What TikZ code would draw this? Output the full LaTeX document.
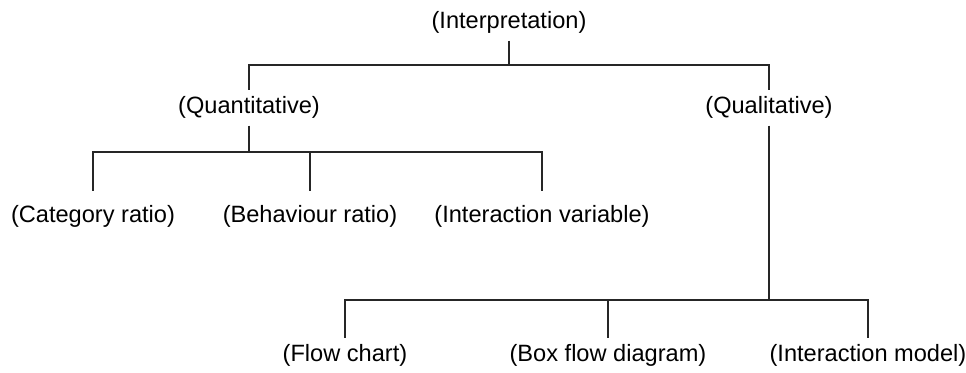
\documentclass[tikz,border=0pt]{standalone}
\usepackage{fontspec}
\setmainfont{Liberation Sans}
\begin{document}
\begin{tikzpicture}[x=0.5pt, y=-0.5pt,
    lbl/.style={font=\fontsize{11.8}{14}\selectfont, inner xsep=0pt, inner ysep=4pt,
                text height=0.73em, text depth=0.21em},
    tree/.style={line width=0.8pt, black!85}]
        % Frame of the picture (pixel grid of the reference)
        \useasboundingbox (0,0) rectangle (966,373);

        % Root
        \node[lbl] (interp) at (509, 23) {(Interpretation)};

        % Second level
        \node[lbl] (quant) at (249, 108) {(Quantitative)};
        \node[lbl] (qual) at (769, 108) {(Qualitative)};

        % Third level, below Quantitative
        \node[lbl] (cat) at (93, 217) {(Category ratio)};
        \node[lbl] (beh) at (310, 217) {(Behaviour ratio)};
        \node[lbl] (intvar) at (542, 217) {(Interaction variable)};

        % Third level, below Qualitative
        \node[lbl] (flow) at (345, 356) {(Flow chart)};
        \node[lbl] (boxflow) at (608, 356) {(Box flow diagram)};
        \node[lbl] (intmod) at (868, 356) {(Interaction model)};

        % Root to second level
        \draw[tree] (interp.south) -- ++(0,24) -| (quant.north);
        \draw[tree] (interp.south) -- ++(0,24) -| (qual.north);

        % Quantitative to its children (lines stop a little higher)
        \draw[tree, shorten >=4pt] (quant.south) -- ++(0,26) -| (cat.north);
        \draw[tree, shorten >=4pt] (quant.south) -- ++(0,26) -| (beh.north);
        \draw[tree, shorten >=4pt] (quant.south) -- ++(0,26) -| (intvar.north);

        % Qualitative down to its children
        \draw[tree] (qual.south) -- ++(0,174) -| (flow.north);
        \draw[tree] (qual.south) -- ++(0,174) -| (boxflow.north);
        \draw[tree] (qual.south) -- ++(0,174) -| (intmod.north);

    \end{tikzpicture}
\end{document}
